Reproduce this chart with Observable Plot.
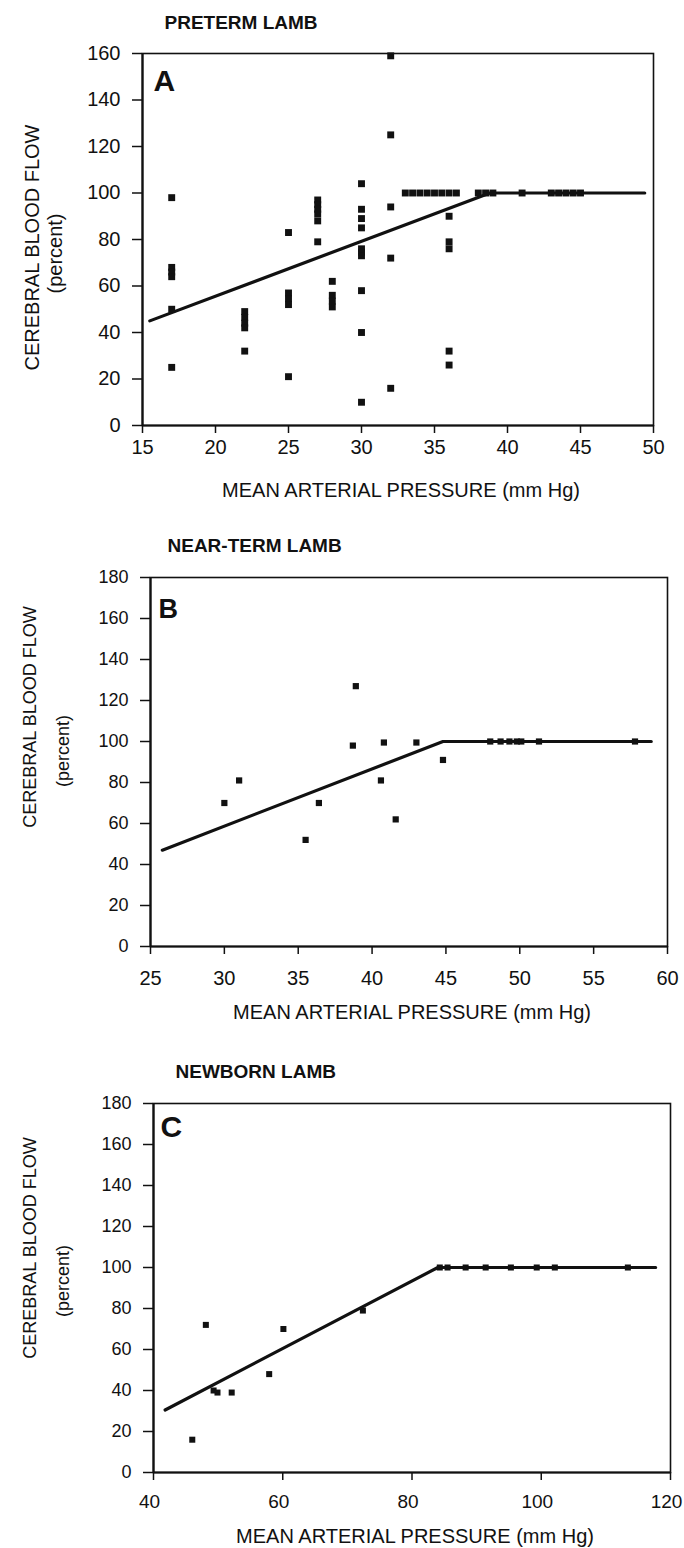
<!DOCTYPE html>
<html>
<head>
<meta charset="utf-8">
<script src="https://cdn.jsdelivr.net/npm/d3@7"></script>
<script src="https://cdn.jsdelivr.net/npm/@observablehq/plot@0.6"></script>
<style>
  html, body { margin: 0; padding: 0; background: #fff; }
  #root { position: relative; width: 684px; height: 1548px; overflow: hidden; background: #fff; }
  .panel { position: absolute; left: 0; }
</style>
</head>
<body>
<div id="root"></div>
<script>
// ---------- Panel A: preterm lamb ----------
const pretermX = [17,17,17,17,17,17, 22,22,22,22,22, 25,25,25,25,25, 27,27,27,27,27,27, 28,28,28,28,
  30,30,30,30,30,30,30,30,30,30, 32,32,32,32,32,
  33,33.5,34,34.5,35,35.5,36,36.5, 38,38.5,39, 41, 43,43.5,44,44.5,45,
  36,36,36,36,36];
const pretermY = [98,68,66,64,50,25, 49,46.5,44,42,32, 83,57,54.5,52,21, 97,95,93,91,88,79, 62,56,53.5,51,
  104,93,89,85,76,74.5,73,58,40,10, 159,125,94,72,16,
  100,100,100,100,100,100,100,100, 100,100,100, 100, 100,100,100,100,100,
  90,79,76,32,26];
const pretermLineX = [15.5, 38.8, 49.4];
const pretermLineY = [45, 100, 100];
const pretermXTicks = [15, 20, 25, 30, 35, 40, 45, 50];
const pretermYTicks = [0, 20, 40, 60, 80, 100, 120, 140, 160];

// ---------- Panel B: near-term lamb ----------
const neartermX = [30, 31, 35.5, 36.4, 38.9, 38.7, 40.8, 40.6, 41.6, 43.0, 44.8,
  48.0, 48.7, 49.3, 49.8, 50.1, 51.3, 57.8];
const neartermY = [70, 81, 52, 70, 127, 98, 99.5, 81, 62, 99.5, 91,
  100, 100, 100, 100, 100, 100, 100];
const neartermLineX = [25.8, 44.8, 58.9];
const neartermLineY = [47, 100, 100];
const neartermXTicks = [25, 30, 35, 40, 45, 50, 55, 60];
const neartermYTicks = [0, 20, 40, 60, 80, 100, 120, 140, 160, 180];

// ---------- Panel C: newborn lamb ----------
const newbornX = [46.0, 48.1, 49.3, 49.9, 52.1, 57.9, 60.1, 72.4,
  84.3, 85.5, 88.3, 91.4, 95.3, 99.3, 102.1, 113.4];
const newbornY = [16, 72, 40, 39, 39, 48, 70, 79,
  100, 100, 100, 100, 100, 100, 100, 100];
const newbornLineX = [41.8, 84, 117.7];
const newbornLineY = [30.5, 100, 100];
const newbornXTicks = [40, 60, 80, 100, 120];
const newbornYTicks = [0, 20, 40, 60, 80, 100, 120, 140, 160, 180];

const panelTitles = ["PRETERM LAMB", "NEAR-TERM LAMB", "NEWBORN LAMB"];
const panelLetters = ["A", "B", "C"];
const yTitle = ["CEREBRAL BLOOD FLOW", "(percent)"];
const xTitle = "MEAN ARTERIAL PRESSURE (mm Hg)";

const FONT = "'Liberation Sans', Arial, Helvetica, sans-serif";
const INK = "#111";

function zip(xs, ys) { return xs.map((x, i) => ({x, y: ys[i]})); }

function makePanel(cfg) {
  const pts = zip(cfg.xs, cfg.ys);
  const line = zip(cfg.lx, cfg.ly);
  return Plot.plot({
    width: 684,
    height: cfg.height,
    marginTop: cfg.mt, marginBottom: cfg.mb, marginLeft: cfg.ml, marginRight: cfg.mr,
    style: {fontFamily: FONT, color: INK, background: "transparent"},
    x: {domain: cfg.xDomain},
    y: {domain: cfg.yDomain},
    marks: [
      // x tick marks (no labels)
      Plot.axisX({ticks: cfg.xTicks, tickSize: 8, tickFormat: () => "", stroke: INK,
        strokeWidth: 1.5, label: null}),
      // x tick labels (can be nudged independently of the ticks)
      Plot.axisX({ticks: cfg.xTicks, tickSize: 0, tickPadding: 8 + cfg.xPad, fontSize: cfg.xFont,
        label: null, fill: INK, dx: cfg.xDx}),
      Plot.axisY({ticks: cfg.yTicks, tickSize: 10, tickPadding: 12, fontSize: cfg.yFont, stroke: INK,
        strokeWidth: 1.5, label: null, fill: INK}),
      Plot.frame({stroke: INK, strokeWidth: 1.6}),
      Plot.ruleX([cfg.xDomain[0]], {stroke: INK, strokeWidth: 2.2}),
      Plot.ruleY([cfg.yDomain[0]], {stroke: INK, strokeWidth: 2.2}),
      Plot.line(line, {x: "x", y: "y", stroke: INK, strokeWidth: 3.2}),
      Plot.dot(pts, {x: "x", y: "y", symbol: "square", r: cfg.r, fill: INK, stroke: "none"}),
      // panel title
      Plot.text([cfg.title], {frameAnchor: "top-left", textAnchor: "start", lineAnchor: "middle",
        dx: cfg.titleDx, dy: cfg.titleDy, fontSize: 19, fontWeight: "bold", fill: INK}),
      // panel letter
      Plot.text([cfg.letter], {frameAnchor: "top-left", textAnchor: "start", lineAnchor: "middle",
        dx: cfg.letterDx, dy: cfg.letterDy, fontSize: cfg.letterSize, fontWeight: "bold", fill: INK}),
      // y title
      Plot.text([yTitle[0]], {frameAnchor: "left", textAnchor: "middle", lineAnchor: "middle", rotate: -90,
        dx: cfg.yt1[0], dy: cfg.yt1[1], fontSize: cfg.ytFont, fill: INK}),
      Plot.text([yTitle[1]], {frameAnchor: "left", textAnchor: "middle", lineAnchor: "middle", rotate: -90,
        dx: cfg.yt2[0], dy: cfg.yt2[1], fontSize: cfg.ytFont, fill: INK}),
      // x title
      Plot.text([xTitle], {frameAnchor: "bottom", textAnchor: "middle", lineAnchor: "middle",
        dx: 3, dy: cfg.xtDy, fontSize: 20, fill: INK})
    ]
  });
}

const panels = [
  {top: 0, height: 520, mt: 53, mb: 95, ml: 142, mr: 31,
   xs: pretermX, ys: pretermY, lx: pretermLineX, ly: pretermLineY,
   xDomain: [15, 50], yDomain: [0, 160], xTicks: pretermXTicks, yTicks: pretermYTicks,
   xPad: 6, xFont: 20, xDx: 0, yFont: 20, r: 3.9,
   title: panelTitles[0], titleDx: 22, titleDy: -31,
   letter: panelLetters[0], letterDx: 11, letterDy: 28, letterSize: 30,
   yt1: [-110, 8], yt2: [-87, 14], ytFont: 20, xtDy: 65},
  {top: 530, height: 510, mt: 47, mb: 94, ml: 150, mr: 17,
   xs: neartermX, ys: neartermY, lx: neartermLineX, ly: neartermLineY,
   xDomain: [25, 60], yDomain: [0, 180], xTicks: neartermXTicks, yTicks: neartermYTicks,
   xPad: 16, xFont: 20, xDx: 0, yFont: 18, r: 3.5,
   title: panelTitles[1], titleDx: 17, titleDy: -32,
   letter: panelLetters[1], letterDx: 8, letterDy: 32, letterSize: 27,
   yt1: [-120, -45], yt2: [-87, -11], ytFont: 18, xtDy: 66},
  {top: 1050, height: 498, mt: 53, mb: 76, ml: 153, mr: 14,
   xs: newbornX, ys: newbornY, lx: newbornLineX, ly: newbornLineY,
   xDomain: [40, 120], yDomain: [0, 180], xTicks: newbornXTicks, yTicks: newbornYTicks,
   xPad: 14, xFont: 19, xDx: -4, yFont: 18, r: 3.4,
   title: panelTitles[2], titleDx: 22, titleDy: -32,
   letter: panelLetters[2], letterDx: 7, letterDy: 24, letterSize: 30,
   yt1: [-123, -40], yt2: [-90, -7], ytFont: 18, xtDy: 64}
];

const root = document.getElementById("root");
for (const cfg of panels) {
  const wrap = document.createElement("div");
  wrap.className = "panel";
  wrap.style.top = cfg.top + "px";
  wrap.appendChild(makePanel(cfg));
  root.appendChild(wrap);
}
</script>
</body>
</html>
